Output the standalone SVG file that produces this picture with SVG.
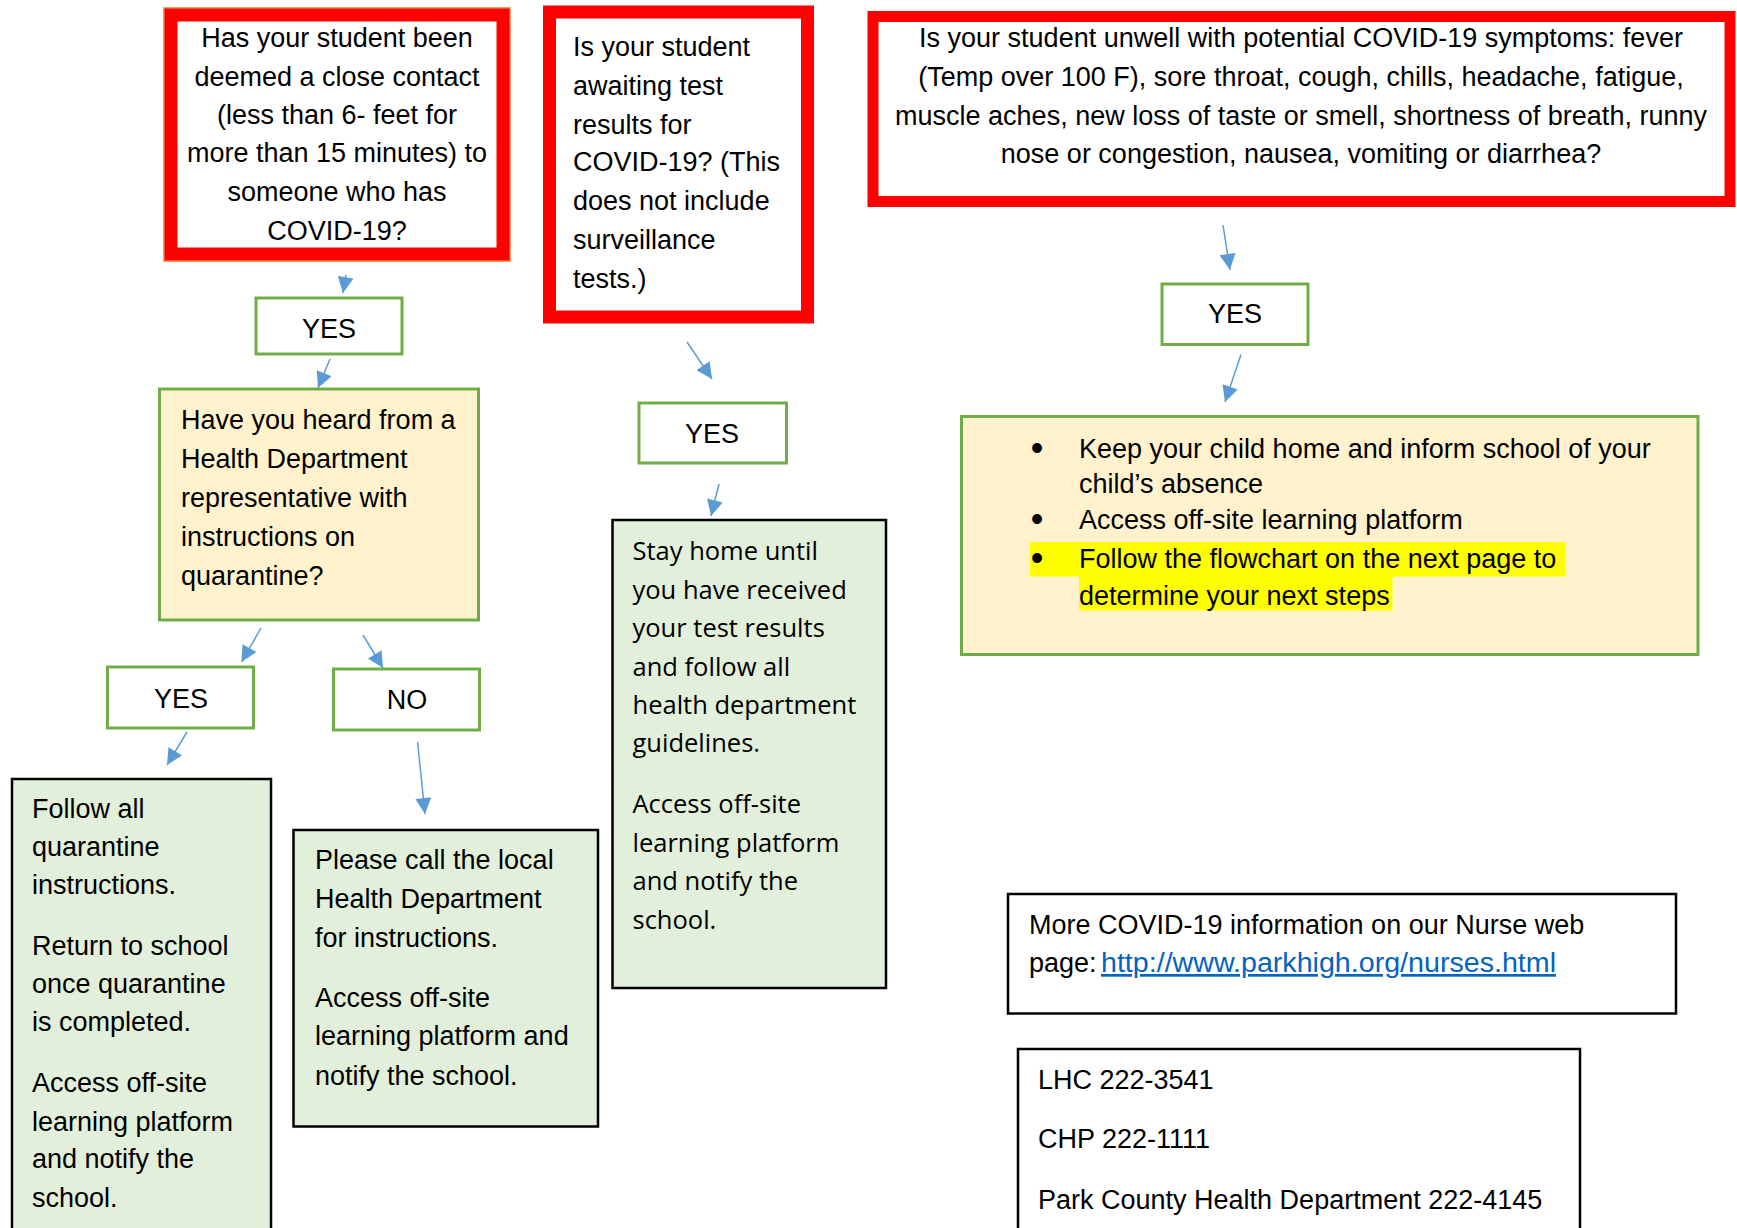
<svg xmlns="http://www.w3.org/2000/svg" width="1737" height="1228" viewBox="0 0 1737 1228">
<style>
.red{fill:#fff;stroke:#ff0000}
.yes{fill:#fff;stroke:#70AD47;stroke-width:3}
.yel{fill:#FFF2CC;stroke:#70AD47;stroke-width:3}
.grn{fill:#E2EFDA;stroke:#000;stroke-width:2.5}
.wht{fill:#fff;stroke:#000;stroke-width:2.5}
text{font-family:"Liberation Sans",Arial,sans-serif;font-size:27px;fill:#000}
.c{text-anchor:middle}
.b{text-anchor:middle;font-size:36px}
.o{font-family:"Open Sans","Liberation Sans",sans-serif;font-size:25.5px}
.lnk{fill:#0563C1;text-decoration:underline}
.hl{fill:#ffff00}
.conn line{stroke:#5B9BD5;stroke-width:1.5;marker-end:url(#ah)}
</style>
<defs>
<marker id="ah" viewBox="0 0 10 10" refX="10" refY="5" markerUnits="userSpaceOnUse" markerWidth="17" markerHeight="16" orient="auto">
<path d="M0,0 L10,5 L0,10 z" fill="#5B9BD5"/>
</marker>
</defs>
<rect width="1737" height="1228" fill="#fff"/>

<g id="q-close-contact">
<rect x="164" y="8" width="346" height="253" fill="none" stroke="#ED7D31" stroke-width="1.5"/>
<rect class="red" x="171" y="15" width="332" height="239" stroke-width="13"/>
<text class="c" x="337" y="47">Has your student been</text>
<text class="c" x="337" y="86">deemed a close contact</text>
<text class="c" x="337" y="124">(less than 6- feet for</text>
<text class="c" x="337" y="162">more than 15 minutes) to</text>
<text class="c" x="337" y="201">someone who has</text>
<text class="c" x="337" y="240">COVID-19?</text>
</g>

<g id="q-awaiting">
<rect class="red" x="549.5" y="12" width="258" height="305" stroke-width="13"/>
<text x="573" y="56">Is your student</text>
<text x="573" y="95">awaiting test</text>
<text x="573" y="133.5">results for</text>
<text x="573" y="171">COVID-19? (This</text>
<text x="573" y="210">does not include</text>
<text x="573" y="249">surveillance</text>
<text x="573" y="287.5">tests.)</text>
</g>

<g id="q-symptoms">
<rect class="red" x="873" y="16.5" width="857" height="185" stroke-width="11"/>
<text class="c" x="1301" y="47">Is your student unwell with potential COVID-19 symptoms: fever</text>
<text class="c" x="1301" y="86">(Temp over 100 F), sore throat, cough, chills, headache, fatigue,</text>
<text class="c" x="1301" y="125">muscle aches, new loss of taste or smell, shortness of breath, runny</text>
<text class="c" x="1301" y="163">nose or congestion, nausea, vomiting or diarrhea?</text>
</g>

<g id="yes-1">
<rect class="yes" x="256" y="298" width="146" height="56"/>
<text class="c" x="329" y="338">YES</text>
</g>

<g id="q-health-dept">
<rect class="yel" x="159.5" y="389" width="319" height="231"/>
<text x="181" y="429">Have you heard from a</text>
<text x="181" y="468">Health Department</text>
<text x="181" y="507">representative with</text>
<text x="181" y="546">instructions on</text>
<text x="181" y="584.5">quarantine?</text>
</g>

<g id="yes-2">
<rect class="yes" x="107.5" y="667" width="146" height="61"/>
<text class="c" x="181" y="708">YES</text>
</g>

<g id="no-1">
<rect class="yes" x="333.5" y="669" width="146" height="61"/>
<text class="c" x="407" y="709">NO</text>
</g>

<g id="follow-quarantine">
<rect class="grn" x="12" y="779" width="259" height="470"/>
<text x="32" y="818">Follow all</text>
<text x="32" y="856">quarantine</text>
<text x="32" y="893.5">instructions.</text>
<text x="32" y="954.5">Return to school</text>
<text x="32" y="993">once quarantine</text>
<text x="32" y="1031">is completed.</text>
<text x="32" y="1092">Access off-site</text>
<text x="32" y="1130.5">learning platform</text>
<text x="32" y="1168">and notify the</text>
<text x="32" y="1207">school.</text>
</g>

<g id="call-health-dept">
<rect class="grn" x="293.5" y="830" width="304.5" height="296.5"/>
<text x="315" y="869">Please call the local</text>
<text x="315" y="908">Health Department</text>
<text x="315" y="947">for instructions.</text>
<text x="315" y="1006.5">Access off-site</text>
<text x="315" y="1045">learning platform and</text>
<text x="315" y="1085">notify the school.</text>
</g>

<g id="yes-3">
<rect class="yes" x="639" y="403" width="147.5" height="60"/>
<text class="c" x="712" y="443">YES</text>
</g>

<g id="stay-home">
<rect class="grn" x="612.5" y="520" width="273.5" height="468"/>
<text class="o" x="632.5" y="560">Stay home until</text>
<text class="o" x="632.5" y="598.5">you have received</text>
<text class="o" x="632.5" y="637">your test results</text>
<text class="o" x="632.5" y="675.5">and follow all</text>
<text class="o" x="632.5" y="714">health department</text>
<text class="o" x="632.5" y="752">guidelines.</text>
<text class="o" x="632.5" y="812.5">Access off-site</text>
<text class="o" x="632.5" y="851.5">learning platform</text>
<text class="o" x="632.5" y="890">and notify the</text>
<text class="o" x="632.5" y="929">school.</text>
</g>

<g id="yes-4">
<rect class="yes" x="1162" y="284" width="146" height="60.5"/>
<text class="c" x="1235" y="323">YES</text>
</g>

<g id="keep-home">
<rect class="yel" x="961.5" y="416.5" width="736.5" height="238"/>
<rect class="hl" x="1030" y="542" width="535.5" height="34.5"/>
<rect class="hl" x="1079" y="576" width="313.5" height="34.5"/>
<text class="b" x="1037" y="460">•</text>
<text x="1079" y="458">Keep your child home and inform school of your</text>
<text x="1079" y="492.5">child’s absence</text>
<text class="b" x="1037" y="531">•</text>
<text x="1079" y="529">Access off-site learning platform</text>
<text class="b" x="1037" y="570">•</text>
<text x="1079" y="568">Follow the flowchart on the next page to</text>
<text x="1079" y="604.5">determine your next steps</text>
</g>

<g id="more-info">
<rect class="wht" x="1008" y="894" width="668" height="119.5"/>
<text x="1029" y="933.5">More COVID-19 information on our Nurse web</text>
<text x="1029" y="972">page:</text>
<text class="lnk" x="1101" y="972" textLength="455" lengthAdjust="spacingAndGlyphs">http://www.parkhigh.org/nurses.html</text>
</g>

<g id="phone-numbers">
<rect class="wht" x="1018" y="1049" width="562" height="200"/>
<text x="1038" y="1088.5">LHC 222-3541</text>
<text x="1038" y="1148">CHP 222-1111</text>
<text x="1038" y="1209">Park County Health Department 222-4145</text>
</g>

<g id="connectors" class="conn">
<line x1="346" y1="275" x2="343" y2="293"/>
<line x1="330" y1="359" x2="318" y2="388"/>
<line x1="261" y1="628" x2="241.5" y2="662"/>
<line x1="363" y1="635" x2="383" y2="668"/>
<line x1="187" y1="732" x2="167" y2="765"/>
<line x1="417.6" y1="742" x2="425" y2="814"/>
<line x1="687" y1="342" x2="712" y2="379"/>
<line x1="719" y1="484" x2="711" y2="516"/>
<line x1="1223" y1="225" x2="1230" y2="270"/>
<line x1="1241" y1="354.5" x2="1225" y2="402"/>
</g>
</svg>
